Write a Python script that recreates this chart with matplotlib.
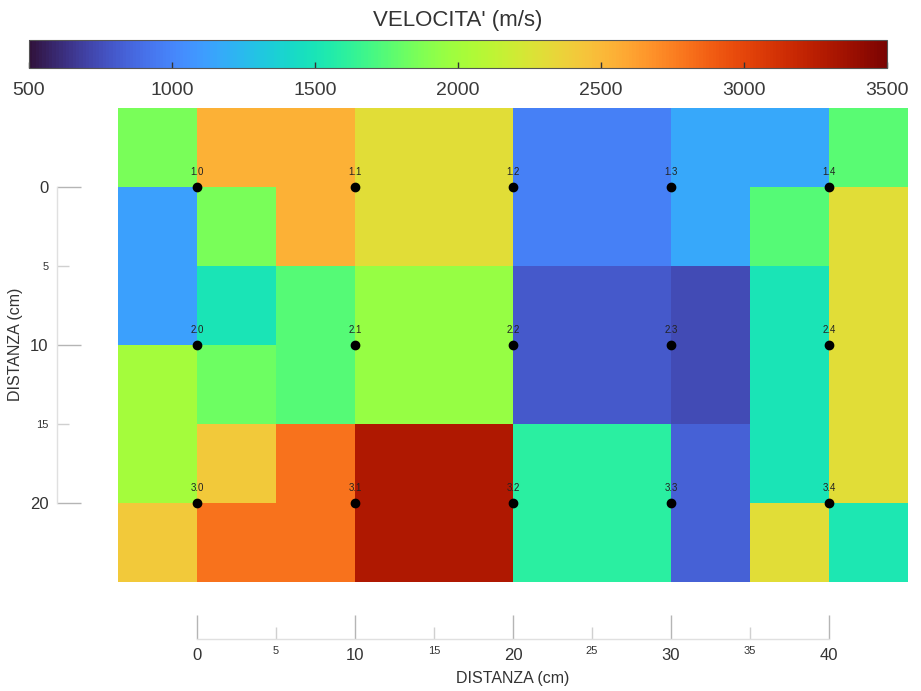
import numpy as np
import matplotlib
matplotlib.use('Agg')
import matplotlib.pyplot as plt
from matplotlib.ticker import FixedLocator

plt.rcParams['font.family'] = ['Liberation Sans', 'DejaVu Sans']

# griglia: bordi delle celle (cm)
x_edges = [-5, 0, 5, 10, 15, 20, 25, 30, 35, 40, 45]
y_edges = [-5, 0, 5, 10, 15, 20, 25]

# velocita' (m/s) per riga (dall'alto verso il basso)
row_0 = [1850, 2550, 2550, 2300, 2300, 980, 980, 1160, 1160, 1760]
row_1 = [1130, 1850, 2550, 2300, 2300, 980, 980, 1160, 1750, 2300]
row_2 = [1130, 1500, 1750, 1950, 1950, 800, 800, 740, 1500, 2300]
row_3 = [2000, 1820, 1750, 1950, 1950, 800, 800, 740, 1500, 2300]
row_4 = [2000, 2420, 2800, 3300, 3300, 1600, 1600, 830, 1500, 2300]
row_5 = [2420, 2800, 2800, 3300, 3300, 1600, 1600, 830, 2300, 1530]

# punti di misura
point_x = [0, 10, 20, 30, 40]
point_y = [0, 10, 20]
point_rows = ['1', '2', '3']

# tick degli assi
x_major = [0, 10, 20, 30, 40]
x_minor = [5, 15, 25, 35]
y_major = [0, 10, 20]
y_minor = [5, 15]
cbar_ticks = [500, 1000, 1500, 2000, 2500, 3000, 3500]

vel = np.array([row_0, row_1, row_2, row_3, row_4, row_5])

fig = plt.figure(figsize=(9.21, 6.91), dpi=100)
ax = fig.add_axes([0.128, 0.158, 0.858, 0.686])

mesh = ax.pcolormesh(x_edges, y_edges, vel, cmap='turbo', vmin=500, vmax=3500)
ax.set_xlim(-5, 45)
ax.set_ylim(25, -5)

# punti e etichette
for r, yy in zip(point_rows, point_y):
    for c, xx in enumerate(point_x):
        ax.plot(xx, yy, 'o', color='black', ms=6)
        ax.annotate(f'{r}.{c}', (xx, yy), xytext=(0, 7), textcoords='offset points',
                    ha='center', va='bottom', fontsize=7, color='#222222')

# assi (staccati dalla mappa)
for s in ['top', 'right']:
    ax.spines[s].set_visible(False)
ax.spines['left'].set_position(('outward', 44))
ax.spines['bottom'].set_position(('outward', 41.5))
ax.spines['left'].set_bounds(0, 20)
ax.spines['bottom'].set_bounds(0, 40)
for s in ['left', 'bottom']:
    ax.spines[s].set_color('#e0e0e0')
    ax.spines[s].set_linewidth(1.0)

ax.xaxis.set_major_locator(FixedLocator(x_major))
ax.xaxis.set_minor_locator(FixedLocator(x_minor))
ax.yaxis.set_major_locator(FixedLocator(y_major))
ax.yaxis.set_minor_locator(FixedLocator(y_minor))
ax.xaxis.set_minor_formatter(lambda v, p: f'{v:g}')
ax.yaxis.set_minor_formatter(lambda v, p: f'{v:g}')

ax.tick_params(which='major', direction='in', length=17, width=1, color='#b5b5b5',
               labelsize=12, labelcolor='#333333', pad=6)
ax.tick_params(which='minor', direction='in', length=8.5, width=1, color='#d0d0d0',
               labelsize=8, labelcolor='#333333', pad=6)
ax.tick_params(axis='x', which='major', pad=6)
ax.tick_params(axis='x', which='minor', pad=5)

ax.set_xlabel('DISTANZA (cm)', fontsize=11.5, color='#333333', labelpad=6)
ax.set_ylabel('DISTANZA (cm)', fontsize=11.5, color='#333333', labelpad=5)

# barra colori
cax = fig.add_axes([0.0315, 0.9016, 0.9316, 0.0405])
cbar = fig.colorbar(mesh, cax=cax, orientation='horizontal')
cbar.set_ticks(cbar_ticks)
cbar.outline.set_edgecolor('#555555')
cbar.outline.set_linewidth(0.8)
cax.tick_params(direction='in', length=4, width=1, color='#333333',
                labelsize=14, labelcolor='#3a3a3a', pad=10)
cax.set_title("VELOCITA' (m/s)", fontsize=16, color='#333333', pad=10)

fig.savefig('out.png', dpi=100)
